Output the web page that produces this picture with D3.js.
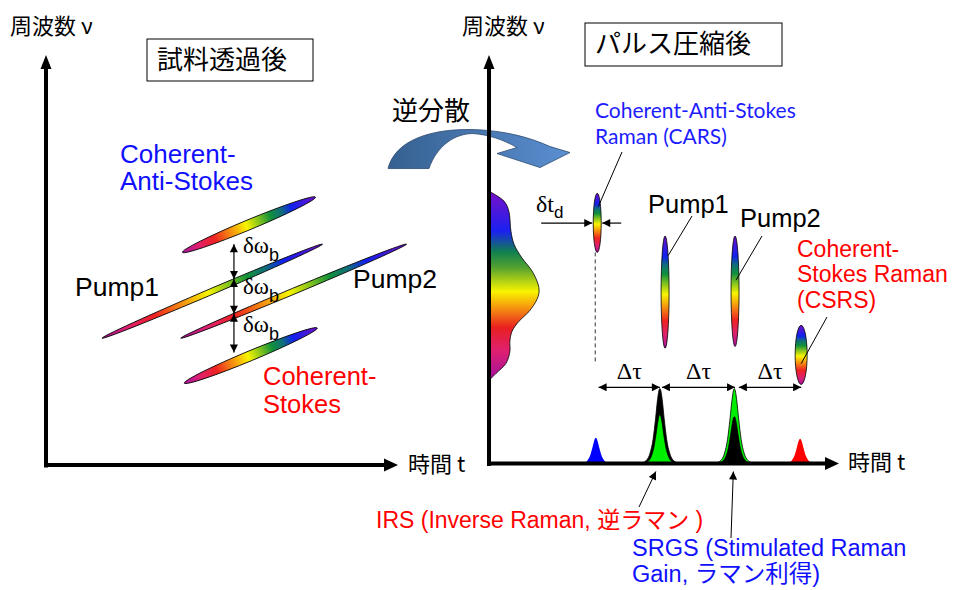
<!DOCTYPE html>
<html>
<head>
<meta charset="utf-8">
<script src="https://cdn.jsdelivr.net/npm/d3@7"></script>
<style>
body { margin: 0; background: #fff; }
text { font-family: "Liberation Sans", Arial, "Noto Sans CJK JP", sans-serif; }
.jp { font-family: "Noto Sans CJK JP", sans-serif; }
.serif { font-family: "Liberation Serif", "DejaVu Serif", serif; }
.cal { font-family: Lato, "Noto Sans", sans-serif; }
</style>
</head>
<body>
<div id="chart"></div>
<script>
const W = 956, H = 590

// ---- data (time / frequency in arbitrary units 0-100) ----
// left panel : pulses after the sample (chirped)
const leftPulseNames = ["Coherent-Anti-Stokes", "Pump1", "Pump2", "Coherent-Stokes"]
const leftPulseT = [[39, 77], [16, 79], [38.5, 103], [39.5, 77.5]]
const leftPulseNu = [[52, 65.5], [31, 54], [31, 54], [20, 33.5]]
const deltaOmegaT = 53.7
const deltaOmegaNu = [54, 45.5, 37, 27.5]

// right panel : spectrum of the pulse
const spectrumNu = [66.8, 64.4, 61.9, 57.0, 53.8, 50.4, 47.2, 44.0, 42.3, 40.3, 37.3, 34.9, 32.4, 30.0, 27.5, 24.6, 22.1, 20.4]
const spectrumAmp = [0, 4.3, 5.7, 6.3, 7.2, 9.5, 12.4, 14.1, 14.4, 13.8, 11.5, 8.6, 6.6, 6.0, 6.0, 4.9, 2.0, 0]

// right panel : compressed pulses
const compNames = ["CARS", "Pump1", "Pump2", "CSRS"]
const compT = [31.1, 50.6, 70.7, 89.7]
const compNu = [[51.8, 66.3], [28.3, 55.8], [28.7, 55.8], [19.4, 33.9]]

// right panel : intensity peaks on the time axis
const peakT = [30.7, 49.1, 49.1, 70.5, 70.5, 89.4]
const peakHeight = [6.3, 18.4, 12.0, 18.4, 11.5, 6.1]
const peakHalfWidth = [4.6, 5.6, 5.0, 5.6, 5.0, 4.6]
const peakShapeX = [-1, -0.7, -0.5, -0.35, -0.22, -0.12, -0.05, 0, 0.05, 0.12, 0.22, 0.35, 0.5, 0.7, 1]
const peakShapeY = [0, 0.04, 0.14, 0.32, 0.6, 0.85, 0.97, 1, 0.97, 0.85, 0.6, 0.32, 0.14, 0.04, 0]
const delayT = [[31.5, 49.1], [49.7, 70.7], [71.8, 89.7]]
const delayNu = 18.7

// styles
const leftThick = [10, 6, 6, 10]
const compThick = [8, 8, 8, 12]
const peakColor = ["#0000ff", "#000000", "#00ee00", "#00ee00", "#000000", "#ff0000"]
const rainbow = [
	[0, "#a8129e"], [0.12, "#e0206e"], [0.24, "#ee2222"], [0.36, "#f58c10"], [0.48, "#f8f400"],
	[0.58, "#7cc020"], [0.66, "#10903a"], [0.74, "#106e7a"], [0.82, "#1020f0"], [1, "#7010c8"]
]
const specStops = [
	[0, "#7a10c8"], [0.21, "#1a20f0"], [0.32, "#108050"], [0.4, "#50a030"], [0.53, "#f8f400"],
	[0.62, "#f59010"], [0.72, "#e82020"], [0.84, "#e0206e"], [1, "#a010a0"]
]

const svg = d3.select("#chart").append("svg")
	.attr("width", W)
	.attr("height", H)
const defs = svg.append("defs")

// gradients
function gradient(id, stops, vertical) {
	const gr = defs.append("linearGradient").attr("id", id)
		.attr("x1", 0).attr("y1", 0)
		.attr("x2", vertical ? 0 : 1).attr("y2", vertical ? 1 : 0)
	stops.forEach(s => gr.append("stop").attr("offset", s[0]).attr("stop-color", s[1]))
	return gr
}
gradient("gH", rainbow, false)
gradient("gV", rainbow.slice().reverse().map(s => [1 - s[0], s[1]]), true)
gradient("gS", specStops, true)
const ga = defs.append("linearGradient").attr("id", "gA").attr("x1", 0).attr("x2", 1)
ga.append("stop").attr("offset", 0).attr("stop-color", "#35608f")
ga.append("stop").attr("offset", 1).attr("stop-color", "#5b8fd2")

// arrow head marker for thin arrows
defs.append("marker").attr("id", "head")
	.attr("viewBox", "0 0 10 10").attr("refX", 10).attr("refY", 5)
	.attr("markerUnits", "userSpaceOnUse")
	.attr("markerWidth", 9).attr("markerHeight", 8)
	.attr("orient", "auto-start-reverse")
	.append("path").attr("d", "M0,0 L10,5 L0,10 Z").attr("fill", "#000")

// scales
const xL = d3.scaleLinear().domain([0, 100]).range([46, 396])
const yL = d3.scaleLinear().domain([0, 100]).range([465, 56])
const xR = d3.scaleLinear().domain([0, 100]).range([489, 837])
const yR = d3.scaleLinear().domain([0, 100]).range([463.5, 56])

// ---------------- curved arrow (逆分散) ----------------
const ax = xR(0), ay = yR(82.2)
svg.append("path")
	.attr("transform", `translate(${ax}, ${ay})`)
	.attr("d", "M-101,40 C-94,12 -59,0 -16,1 C16,2 41,9 61,18 L81,24 L51,39 L8,25 L28,19 C14,11 -1,6 -16,5 C-34,5 -52,17 -60,40 Z")
	.attr("fill", "url(#gA)")
	.attr("stroke", "#2c4a70")
	.attr("stroke-width", 0.8)

// ---------------- axes ----------------
function drawAxes(x, y, tipX, tipY) {
	const ys = d3.scaleLinear().domain([0, 1]).range([y.range()[0] + 2, tipY + 12])
	const xs = d3.scaleLinear().domain([0, 1]).range([x.range()[0] - 2, tipX - 11])
	const g = svg.append("g")
	g.append("g").attr("transform", `translate(${x.range()[0] - 0.5}, 0)`)
		.call(d3.axisLeft(ys).ticks(0).tickSizeOuter(0))
		.select(".domain").attr("stroke-width", 4)
	g.append("g").attr("transform", `translate(0, ${y.range()[0] - 0.5})`)
		.call(d3.axisBottom(xs).ticks(0).tickSizeOuter(0))
		.select(".domain").attr("stroke-width", 4)
	const x0 = x.range()[0], y0 = y.range()[0]
	g.append("path").attr("d", `M${x0 - 5.5},${tipY + 14} L${x0},${tipY} L${x0 + 5.5},${tipY + 14} Z`)
	g.append("path").attr("d", `M${tipX - 14},${y0 - 6.5} L${tipX},${y0} L${tipX - 14},${y0 + 6.5} Z`)
}

// ---------------- left panel ----------------
const gl = svg.append("g")
leftPulseNames.forEach((name, i) => {
	const x1 = xL(leftPulseT[i][0]), x2 = xL(leftPulseT[i][1])
	const y1 = yL(leftPulseNu[i][0]), y2 = yL(leftPulseNu[i][1])
	const len = Math.hypot(x2 - x1, y2 - y1)
	const ang = Math.atan2(y2 - y1, x2 - x1) * 180 / Math.PI
	gl.append("ellipse")
		.attr("transform", `translate(${(x1 + x2) / 2}, ${(y1 + y2) / 2}) rotate(${ang})`)
		.attr("rx", len / 2).attr("ry", leftThick[i] / 2)
		.attr("fill", "url(#gH)")
		.attr("stroke", "#000").attr("stroke-width", 0.8)
})
d3.pairs(deltaOmegaNu).forEach((p, i) => {
	gl.append("line")
		.attr("x1", xL(deltaOmegaT)).attr("x2", xL(deltaOmegaT))
		.attr("y1", yL(p[0])).attr("y2", yL(p[1]))
		.attr("stroke", "#000").attr("stroke-width", 1.2)
		.attr("marker-start", "url(#head)").attr("marker-end", "url(#head)")
	const t = gl.append("text").attr("class", "serif")
		.attr("x", xL(deltaOmegaT) + 9).attr("y", [253, 294, 332][i])
		.attr("font-size", 23)
	t.append("tspan").text("δω")
	t.append("tspan").attr("dy", 8).attr("font-size", 18)
		.attr("font-family", "Liberation Sans").text("b")
})

// ---------------- right panel ----------------
const gr = svg.append("g")
const spec = spectrumNu.map((nu, i) => ({ nu, a: spectrumAmp[i] }))
gr.append("path")
	.attr("d", d3.area().y(d => yR(d.nu)).x0(xR(0)).x1(d => xR(d.a)).curve(d3.curveCatmullRom)(spec))
	.attr("fill", "url(#gS)")
	.attr("stroke", "#000").attr("stroke-width", 0.8)

// dashed guide under CARS pulse
gr.append("line")
	.attr("x1", xR(compT[0]) - 2).attr("x2", xR(compT[0]) - 2)
	.attr("y1", yR(compNu[0][0])).attr("y2", yR(25))
	.attr("stroke", "#333").attr("stroke-width", 1).attr("stroke-dasharray", "4,3")

// peaks
peakT.forEach((t, i) => {
	const pts = peakShapeX.map((s, j) => ({ t: t + s * peakHalfWidth[i], v: peakShapeY[j] * peakHeight[i] }))
	gr.append("path")
		.attr("d", d3.area().x(d => xR(d.t)).y0(yR(0)).y1(d => yR(d.v)).curve(d3.curveMonotoneX)(pts))
		.attr("fill", peakColor[i])
		.attr("stroke", i === 0 || i === 5 ? "none" : "#000")
		.attr("stroke-width", 0.8)
})

// compressed pulses
compNames.forEach((name, i) => {
	const y1 = yR(compNu[i][0]), y2 = yR(compNu[i][1])
	gr.append("ellipse")
		.attr("cx", xR(compT[i])).attr("cy", (y1 + y2) / 2)
		.attr("rx", compThick[i] / 2).attr("ry", Math.abs(y1 - y2) / 2)
		.attr("fill", "url(#gV)")
		.attr("stroke", "#000").attr("stroke-width", 0.8)
})

// delay arrows Δτ
delayT.forEach((d, i) => {
	gr.append("line")
		.attr("x1", xR(d[0])).attr("x2", xR(d[1]))
		.attr("y1", yR(delayNu)).attr("y2", yR(delayNu))
		.attr("stroke", "#000").attr("stroke-width", 1.2)
		.attr("marker-start", "url(#head)").attr("marker-end", "url(#head)")
	gr.append("text").attr("class", "serif")
		.attr("x", xR((d[0] + d[1]) / 2)).attr("y", yR(delayNu) - 8)
		.attr("text-anchor", "middle").attr("font-size", 24)
		.text("Δτ")
})

// δt_d arrows
const cy0 = yR(59)
gr.append("line").attr("x1", xR(compT[0]) - 56).attr("x2", xR(compT[0]) - 5)
	.attr("y1", cy0).attr("y2", cy0).attr("stroke", "#000").attr("stroke-width", 1.2)
	.attr("marker-end", "url(#head)")
gr.append("line").attr("x1", xR(compT[0]) + 24).attr("x2", xR(compT[0]) + 5)
	.attr("y1", cy0).attr("y2", cy0).attr("stroke", "#000").attr("stroke-width", 1.2)
	.attr("marker-end", "url(#head)")
const dt = gr.append("text").attr("class", "serif").attr("x", 536).attr("y", 212).attr("font-size", 24)
dt.append("tspan").text("δt")
dt.append("tspan").attr("dy", 6).attr("font-size", 17).attr("font-family", "Liberation Sans").text("d")

// leader lines
const leaders = [
	[xR(compT[0]) + 1, yR(63), 622, 152],
	[xR(compT[1]) + 3, yR(51), 692, 216],
	[xR(compT[2]) + 1, yR(45), 762, 236],
	[xR(compT[3]), yR(24.5), 827, 317]
]
leaders.forEach(l => gr.append("line")
	.attr("x1", l[0]).attr("y1", l[1]).attr("x2", l[2]).attr("y2", l[3])
	.attr("stroke", "#000").attr("stroke-width", 1))
gr.append("line").attr("x1", 639).attr("y1", 507).attr("x2", xR(peakT[1]) - 4).attr("y2", yR(0) + 8)
	.attr("stroke", "#000").attr("stroke-width", 1).attr("marker-end", "url(#head)")
gr.append("line").attr("x1", 731).attr("y1", 538).attr("x2", xR(peakT[3]) - 1).attr("y2", yR(0) + 8)
	.attr("stroke", "#000").attr("stroke-width", 1).attr("marker-end", "url(#head)")

drawAxes(xL, yL, 398, 55)
drawAxes(xR, yR, 839, 55)

// ---------------- text ----------------
function label(x, y, s, size, color, cls) {
	return svg.append("text").attr("class", cls || null)
		.attr("x", x).attr("y", y).attr("font-size", size)
		.attr("fill", color || "#000").text(s)
}
label(10, 34, "周波数 ν", 22, "#000", "jp")
label(462, 34, "周波数 ν", 22, "#000", "jp")
label(408, 472, "時間 t", 22, "#000", "jp")
label(848, 470, "時間 t", 22, "#000", "jp")

svg.append("rect").attr("x", 147).attr("y", 39).attr("width", 166).attr("height", 42)
	.attr("fill", "none").attr("stroke", "#000").attr("stroke-width", 1)
label(157, 69, "試料透過後", 26, "#000", "jp")
svg.append("rect").attr("x", 585).attr("y", 23).attr("width", 197).attr("height", 43)
	.attr("fill", "none").attr("stroke", "#000").attr("stroke-width", 1)
label(595, 53, "パルス圧縮後", 26, "#000", "jp")
label(392, 120, "逆分散", 26, "#000", "jp")

label(120, 163, "Coherent-", 26, "#1010ff")
label(120, 190, "Anti-Stokes", 26, "#1010ff")
label(75, 296, "Pump1", 26.5)
label(353, 288, "Pump2", 26.5)
label(263, 385, "Coherent-", 25.5, "#ff0000")
label(263, 413, "Stokes", 25.5, "#ff0000")

label(595, 118, "Coherent-Anti-Stokes", 21, "#1c1cff", "cal")
label(595, 144, "Raman (CARS)", 21, "#1c1cff", "cal")
label(648, 213, "Pump1", 25.5)
label(740, 227, "Pump2", 25.5)
label(797, 257, "Coherent-", 23, "#ff0000")
label(797, 282, "Stokes Raman", 23, "#ff0000")
label(797, 308, "(CSRS)", 23, "#ff0000")

label(376, 528, "IRS (Inverse Raman,  逆ラマン  )", 23, "#ff0000")
label(632, 556, "SRGS (Stimulated Raman", 23.5, "#1010ff")
label(632, 582, "Gain, ラマン利得)", 23.5, "#1010ff")
</script>
</body>
</html>
